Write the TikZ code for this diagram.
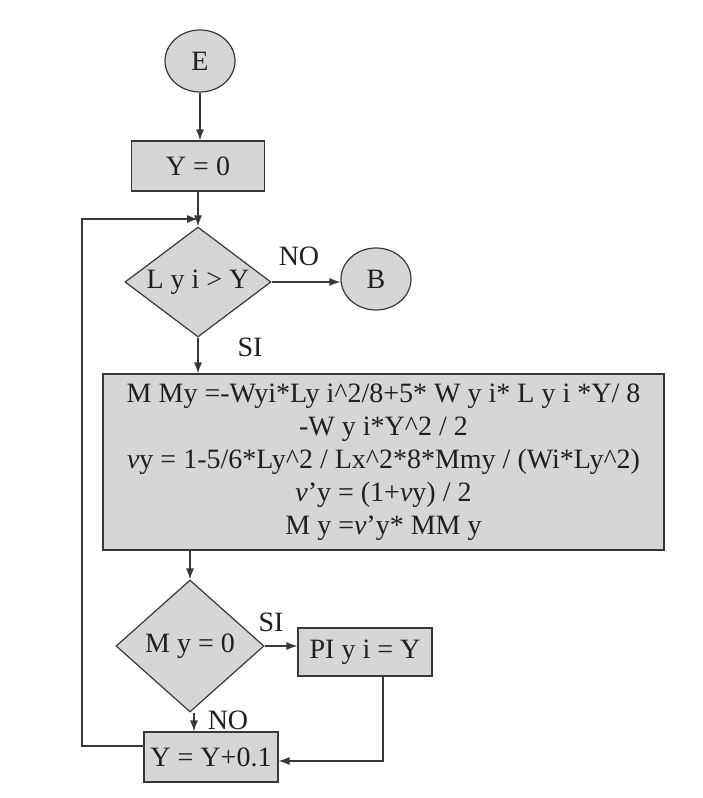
\documentclass[tikz,border=0pt]{standalone}
\usepackage{fontspec}
\setmainfont{Liberation Serif}
\usetikzlibrary{shapes.geometric,arrows.meta}

\definecolor{boxgray}{gray}{0.84}
\definecolor{linegray}{gray}{0.22}
\definecolor{textgray}{gray}{0.12}
\newcommand{\nuy}{\textit{ν}}
\newcommand{\pw}{\textasciicircum{}}

\begin{document}
\begin{tikzpicture}[x=1pt,y=-1pt,
	>={Latex[length=11pt,width=8pt]},
	every node/.style={font=\fontsize{28}{33}\selectfont, text=textgray},
	flow/.style={draw=linegray, line width=1.2pt},
	proc/.style={draw=linegray, line width=1.2pt, fill=boxgray, rectangle, inner sep=0pt},
	term/.style={draw=linegray, line width=1.2pt, fill=boxgray, ellipse, inner sep=0pt, minimum width=70pt, minimum height=62pt},
	cond/.style={draw=linegray, line width=1.2pt, fill=boxgray, diamond, aspect=1.3, inner sep=0pt}]
	\useasboundingbox (0,0) rectangle (702,798);
	\node[term] (E) at (200,61) {E};
	\node[proc, minimum width=133pt, minimum height=50pt] (Y0) at (198,166) {Y = 0};
	\node[cond, minimum width=146pt, minimum height=110pt] (D1) at (198,282) {L y i > Y};
	\node[term] (B) at (376,279) {B};
	\node[proc, minimum width=561pt, minimum height=176pt, align=center] (MM) at (383.5,462)
		{M My =-Wyi*Ly i\pw2/8+5* W y i* L y i *Y/ 8\\
		 -W y i*Y\pw2 / 2\\
		 \nuy y = 1-5/6*Ly\pw2 / Lx\pw2*8*Mmy / (Wi*Ly\pw2)\\
		 \nuy’y = (1+\nuy y) / 2\\
		 M y =\nuy’y* MM y};
	\node[cond, minimum width=148pt, minimum height=132pt] (D2) at (190,646) {M y = 0};
	\node[proc, minimum width=134pt, minimum height=48pt] (PI) at (365,652) {PI y i = Y};
	\node[proc, minimum width=134pt, minimum height=50pt] (Y1) at (211,757) {Y = Y+0.1};
	% labels on the branches
	\node (no1) at (299,256) {NO};
	\node (si1) at (250,347) {SI};
	\node (si2) at (271,622) {SI};
	\node (no2) at (228,720) {NO};
	% connectors
	\coordinate (lcorner) at (82,219);
	\draw[flow, ->] (E.south) -- (E.south |- Y0.north);
	\draw[flow, ->] (Y0.south) -- (D1.north);
	\draw[flow, ->] ([yshift=11pt]Y1.west) -| (lcorner) -- (lcorner -| D1.north);
	\draw[flow, ->] (D1.east) -- (D1.east -| B.west);
	\draw[flow, ->] (D1.south) -- (D1.south |- MM.north);
	\draw[flow, ->] (D2.north |- MM.south) -- (D2.north);
	\draw[flow, ->] (D2.east) -- (D2.east -| PI.west);
	\draw[flow, ->] ([xshift=4pt]D2.south) -- ([xshift=4pt]D2.south |- Y1.north);
	\draw[flow, ->] ([xshift=18pt]PI.south) |- ([yshift=-4pt]Y1.east);
\end{tikzpicture}
\end{document}
